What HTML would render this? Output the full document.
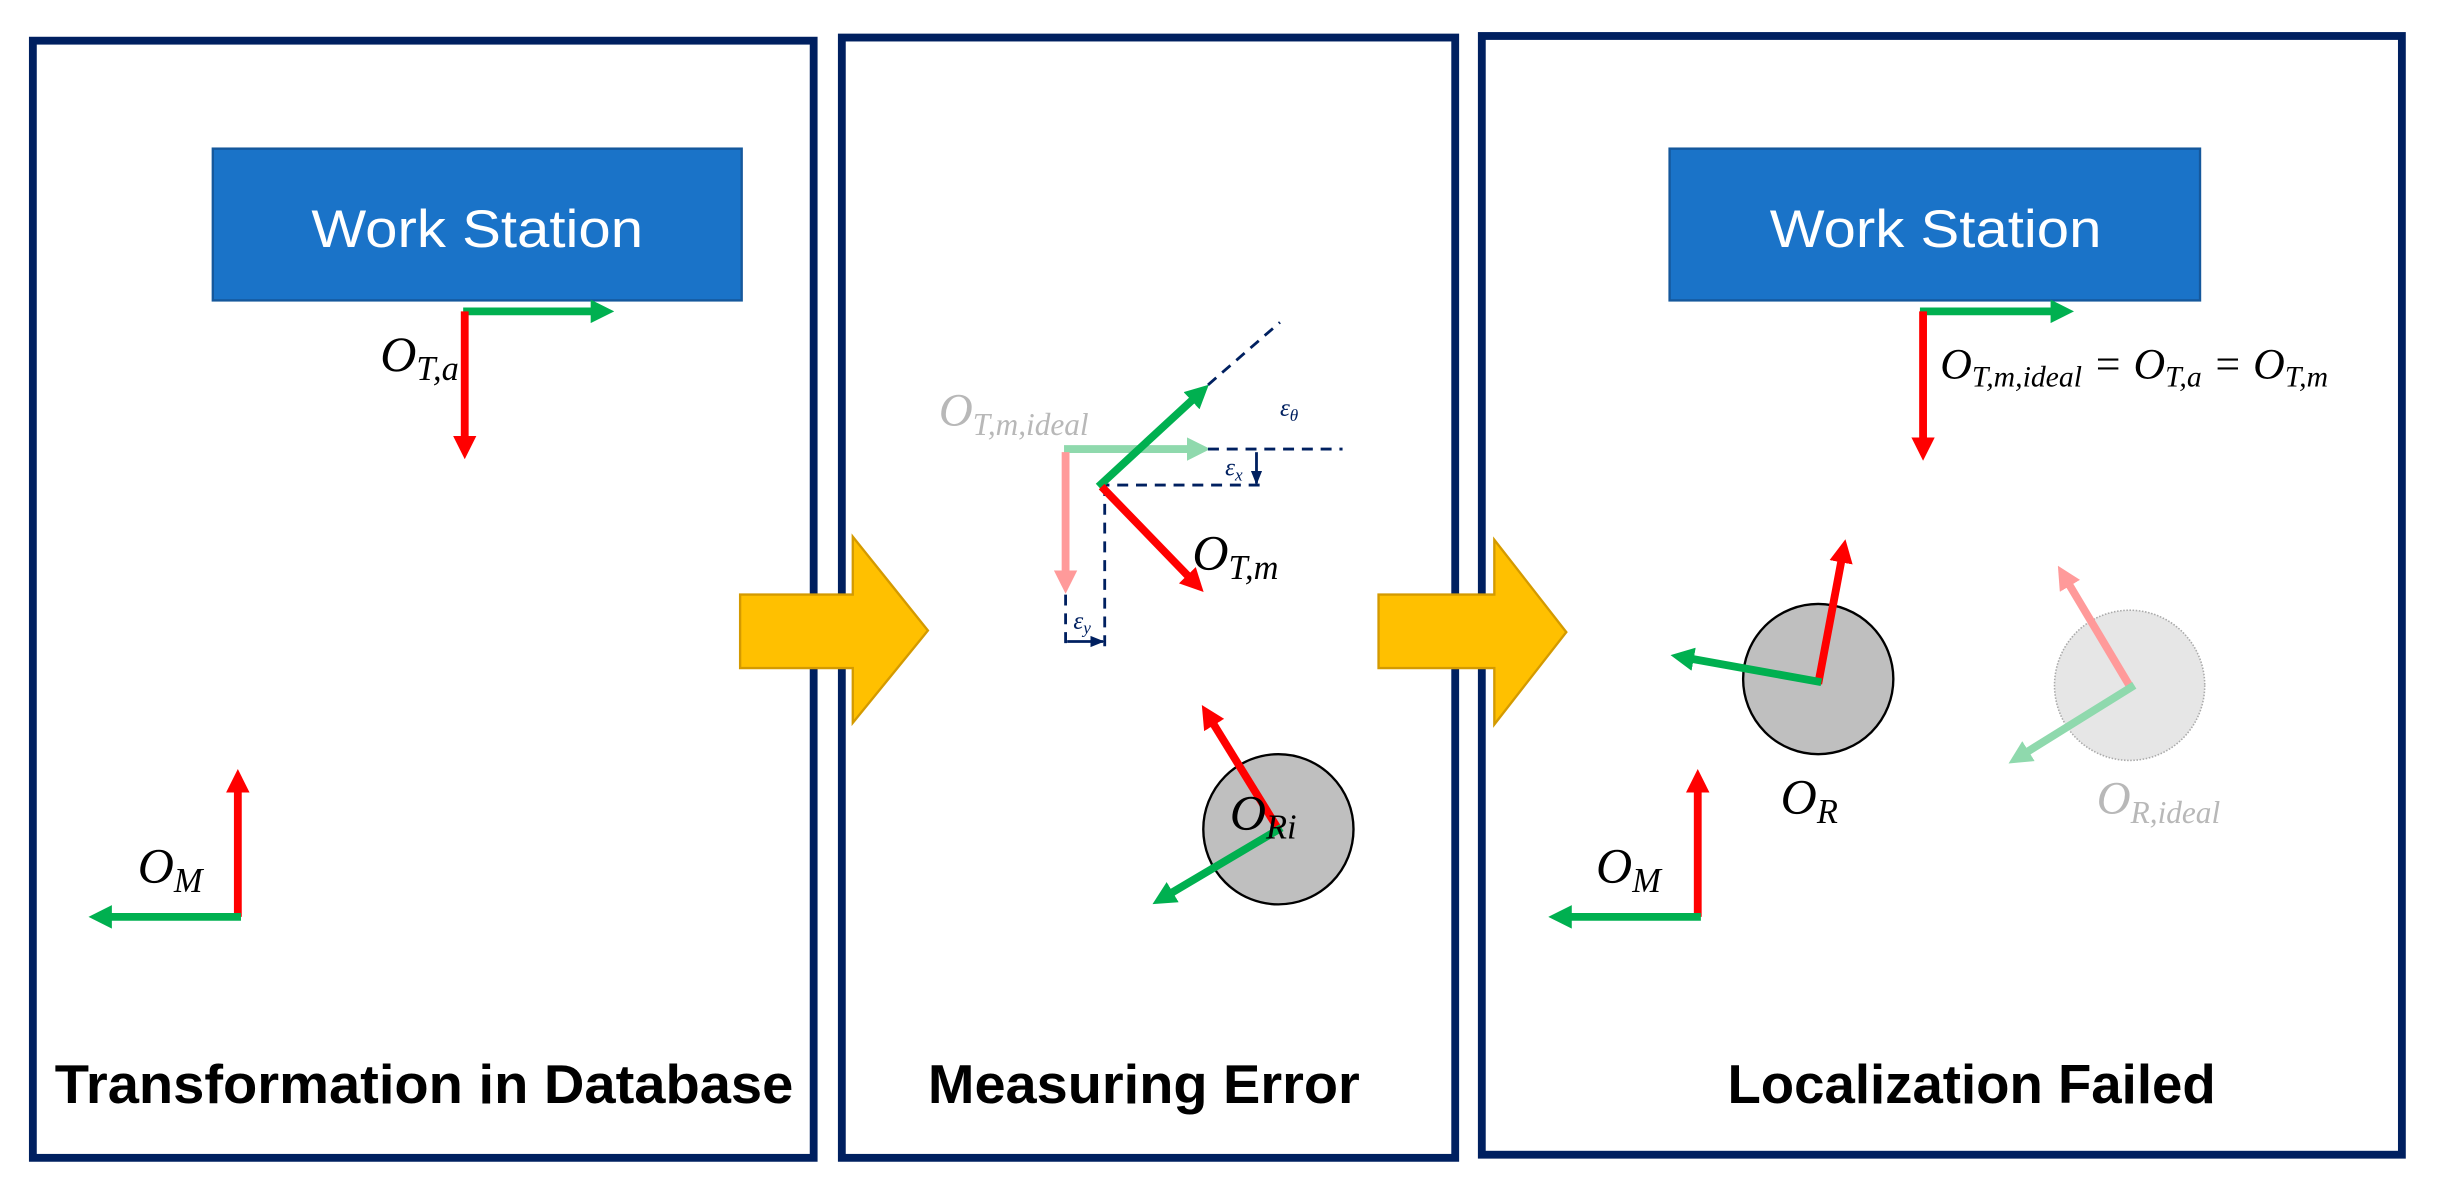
<!DOCTYPE html>
<html><head><meta charset="utf-8"><style>html,body{margin:0;padding:0;background:#fff}svg{display:block}</style></head>
<body>
<svg width="2441" height="1186" viewBox="0 0 1560 758" preserveAspectRatio="none" xmlns="http://www.w3.org/2000/svg">
<defs>
<marker id="hr" viewBox="0 0 10 10" refX="5" refY="5" markerWidth="3" markerHeight="3" orient="auto"><path d="M0,0L10,5L0,10z" fill="#ff0000"/></marker>
<marker id="hg" viewBox="0 0 10 10" refX="5" refY="5" markerWidth="3" markerHeight="3" orient="auto"><path d="M0,0L10,5L0,10z" fill="#00b050"/></marker>
<marker id="hrf" viewBox="0 0 10 10" refX="5" refY="5" markerWidth="3" markerHeight="3" orient="auto"><path d="M0,0L10,5L0,10z" fill="#ff9a9a"/></marker>
<marker id="hgf" viewBox="0 0 10 10" refX="5" refY="5" markerWidth="3" markerHeight="3" orient="auto"><path d="M0,0L10,5L0,10z" fill="#8fd9ad"/></marker>
<marker id="hn" viewBox="0 0 10 10" refX="9" refY="5" markerWidth="5" markerHeight="5" orient="auto"><path d="M0,1L10,5L0,9z" fill="#002060"/></marker>
</defs>
<g fill="none" stroke="#002060" stroke-width="5">
<rect x="21" y="26" width="499" height="714"/>
<rect x="538" y="24" width="392" height="716"/>
<rect x="947" y="23" width="588" height="715"/>
</g>
<path d="M473,380H545V343L593,403L545,462V427H473Z" fill="#ffc000" stroke="#d49a00" stroke-width="1.5"/>
<path d="M881,380H955V345L1001,404L955,463V427H881Z" fill="#ffc000" stroke="#d49a00" stroke-width="1.5"/>
<rect x="136" y="95" width="338" height="97" fill="#1a73c8" stroke="#15589c" stroke-width="1.5"/>
<text x="305" y="158" font-family="Liberation Sans, sans-serif" font-size="34" fill="#fff" text-anchor="middle" textLength="212" lengthAdjust="spacingAndGlyphs">Work Station</text>
<rect x="1067" y="95" width="339" height="97" fill="#1a73c8" stroke="#15589c" stroke-width="1.5"/>
<text x="1237" y="158" font-family="Liberation Sans, sans-serif" font-size="34" fill="#fff" text-anchor="middle" textLength="212" lengthAdjust="spacingAndGlyphs">Work Station</text>
<g stroke-width="5" fill="none" stroke-linecap="butt">
<line x1="296" y1="199" x2="385" y2="199" stroke="#00b050" marker-end="url(#hg)"/>
<line x1="297" y1="199" x2="297" y2="286" stroke="#ff0000" marker-end="url(#hr)"/>
<line x1="152" y1="586" x2="152" y2="499" stroke="#ff0000" marker-end="url(#hr)"/>
<line x1="154" y1="586" x2="64" y2="586" stroke="#00b050" marker-end="url(#hg)"/>
<line x1="680" y1="287" x2="766" y2="287" stroke="#8fd9ad" marker-end="url(#hgf)"/>
<line x1="681" y1="289" x2="681" y2="372" stroke="#ff9a9a" marker-end="url(#hrf)"/>
<g stroke="#002060" stroke-width="1.8" stroke-dasharray="7,5">
<line x1="772" y1="246" x2="818" y2="206"/>
<line x1="772" y1="287" x2="858" y2="287"/>
<line x1="702" y1="310" x2="806" y2="310"/>
<line x1="706" y1="310" x2="706" y2="416"/>
<line x1="681" y1="380" x2="681" y2="416"/>
</g>
<line x1="803" y1="289" x2="803" y2="309" stroke="#002060" stroke-width="1.8" marker-end="url(#hn)"/>
<line x1="682" y1="410" x2="705" y2="410" stroke="#002060" stroke-width="1.8" marker-end="url(#hn)"/>
<line x1="702" y1="311" x2="767" y2="251" stroke="#00b050" marker-end="url(#hg)"/>
<line x1="704" y1="311" x2="764" y2="373" stroke="#ff0000" marker-end="url(#hr)"/>
</g>
<circle cx="817" cy="530" r="48" fill="#bfbfbf" stroke="#000" stroke-width="1.5"/>
<g stroke-width="5" fill="none">
<line x1="817" y1="530" x2="772" y2="457" stroke="#ff0000" marker-end="url(#hr)"/>
<line x1="819" y1="529" x2="743" y2="574" stroke="#00b050" marker-end="url(#hg)"/>
</g>
<circle cx="1162" cy="434" r="48" fill="#bfbfbf" stroke="#000" stroke-width="1.5"/>
<circle cx="1361" cy="438" r="48" fill="#e6e6e6" stroke="#aaa" stroke-width="1" stroke-dasharray="1,1"/>
<g stroke-width="5" fill="none">
<line x1="1227" y1="199" x2="1318" y2="199" stroke="#00b050" marker-end="url(#hg)"/>
<line x1="1229" y1="199" x2="1229" y2="287" stroke="#ff0000" marker-end="url(#hr)"/>
<line x1="1162" y1="437" x2="1178" y2="352" stroke="#ff0000" marker-end="url(#hr)"/>
<line x1="1164" y1="436" x2="1075" y2="420" stroke="#00b050" marker-end="url(#hg)"/>
<line x1="1362" y1="440" x2="1319" y2="368" stroke="#ff9a9a" marker-end="url(#hrf)"/>
<line x1="1364" y1="438" x2="1290" y2="484" stroke="#8fd9ad" marker-end="url(#hgf)"/>
<line x1="1085" y1="586" x2="1085" y2="499" stroke="#ff0000" marker-end="url(#hr)"/>
<line x1="1087" y1="586" x2="997" y2="586" stroke="#00b050" marker-end="url(#hg)"/>
</g>
<g font-family="Liberation Serif, serif" font-style="italic" fill="#000">
<text x="243" y="237" font-size="32">O<tspan font-size="22" dy="6">T,a</tspan></text>
<text x="88" y="564" font-size="32">O<tspan font-size="22" dy="6">M</tspan></text>
<text x="1020" y="564" font-size="32">O<tspan font-size="22" dy="6">M</tspan></text>
<text x="762" y="364" font-size="32">O<tspan font-size="22" dy="6">T,m</tspan></text>
<text x="786" y="530" font-size="32">O<tspan font-size="22" dy="6">Ri</tspan></text>
<text x="1138" y="520" font-size="32">O<tspan font-size="22" dy="6">R</tspan></text>
<text x="600" y="272" font-size="30" fill="#b8b8b8">O<tspan font-size="20" dy="6">T,m,ideal</tspan></text>
<text x="1340" y="520" font-size="30" fill="#b8b8b8">O<tspan font-size="20" dy="6">R,ideal</tspan></text>
<text x="1240" y="242" font-size="28">O<tspan font-size="19" dy="5">T,m,ideal</tspan><tspan dy="-5"> = O</tspan><tspan font-size="19" dy="5">T,a</tspan><tspan dy="-5"> = O</tspan><tspan font-size="19" dy="5">T,m</tspan></text>
<g fill="#002060" font-size="16">
<text x="818" y="266">ε<tspan font-size="11" dy="3">θ</tspan></text>
<text x="783" y="304">ε<tspan font-size="11" dy="3">x</tspan></text>
<text x="686" y="402">ε<tspan font-size="11" dy="3">y</tspan></text>
</g>
</g>
<g font-family="Liberation Sans, sans-serif" font-weight="bold" font-size="35" fill="#000" text-anchor="middle">
<text x="271" y="705" textLength="472" lengthAdjust="spacingAndGlyphs">Transformation in Database</text>
<text x="731" y="705" textLength="276" lengthAdjust="spacingAndGlyphs">Measuring Error</text>
<text x="1260" y="705" textLength="312" lengthAdjust="spacingAndGlyphs">Localization Failed</text>
</g>
</svg>
</body></html>
